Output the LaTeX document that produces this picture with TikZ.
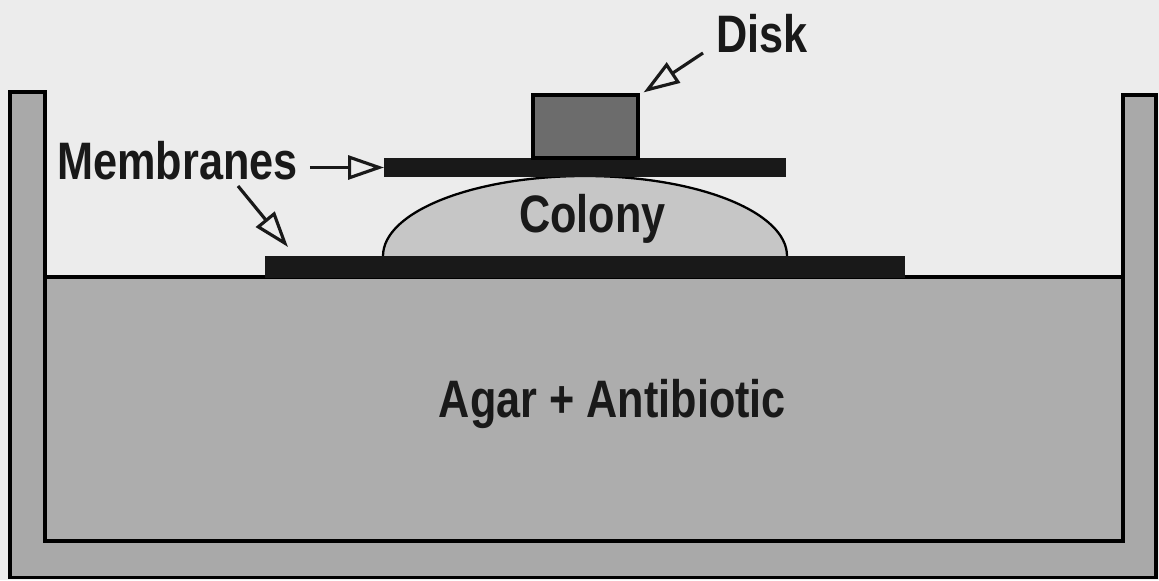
\documentclass[tikz,border=0pt]{standalone}
\usepackage{fontspec}
\newfontfamily\lblfont{Liberation Sans}[FakeStretch=0.82]
\usetikzlibrary{arrows.meta, positioning}
\definecolor{paper}{HTML}{ECECEC}
\definecolor{dishgray}{HTML}{A9A9A9}
\definecolor{agargray}{HTML}{ADADAD}
\definecolor{colonygray}{HTML}{C6C6C6}
\definecolor{diskgray}{HTML}{6C6C6C}

\tikzset{
  lbl/.style={font=\lblfont\bfseries\fontsize{30}{36}\selectfont, inner sep=0pt, text=black!90},
  pointer/.style={-{Triangle[open, length=0.72cm, width=0.48cm]}, line width=1.8pt, black!90},
  membrane/.style={fill=black!90, inner sep=0pt, outer sep=0pt}
}

\begin{document}
\begin{tikzpicture}
  \useasboundingbox (0,0) rectangle (23.18,11.6);
  \fill[paper] (0,0) rectangle (23.18,11.6);

  % Petri dish walls and agar
  \draw[line width=1.8pt, fill=dishgray] (0.2,0.05) -- (0.2,9.76) -- (0.9,9.76) -- (0.9,0.78)
    -- (22.46,0.78) -- (22.46,9.70) -- (23.12,9.70) -- (23.12,0.05) -- cycle;
  \draw[line width=1.8pt, fill=agargray] (0.9,0.78) rectangle (22.46,6.06);

  % Colony under the top membrane
  \draw[line width=1.3pt, fill=colonygray] (7.66,6.48) arc[start angle=180, end angle=0, x radius=4.04, y radius=1.6];

  % Membranes and disk
  \node[membrane, minimum width=12.8cm, minimum height=0.44cm] (botmem) at (11.7,6.26) {};
  \node[membrane, minimum width=8.04cm, minimum height=0.38cm] (topmem) at (11.7,8.25) {};
  \node[draw, line width=1.8pt, fill=diskgray, minimum width=2.1cm, minimum height=1.26cm, inner sep=0pt] (disk) at (11.71,9.07) {};

  % Labels
  \node[lbl, anchor=base] (disklbl) at (15.24,10.54) {Disk};
  \node[lbl, anchor=base west] (mem) at (1.14,8.0) {Membranes};
  \node[lbl, anchor=base] (colony) at (11.85,6.94) {Colony};
  \node[lbl, anchor=base] (agar) at (12.25,3.24) {Agar + Antibiotic};

  % Arrows
  \coordinate (memtail) at (4.76,7.88);
  \draw[pointer, shorten <=0.24cm] (mem.east |- topmem.west) -- (topmem.west);
  \draw[pointer] (memtail) -- ([shift={(0.46,0.18)}]botmem.north west);
  \draw[pointer] ([xshift=-0.26cm]disklbl.base west) -- ([shift={(0.08,0.02)}]disk.north east);
\end{tikzpicture}
\end{document}
